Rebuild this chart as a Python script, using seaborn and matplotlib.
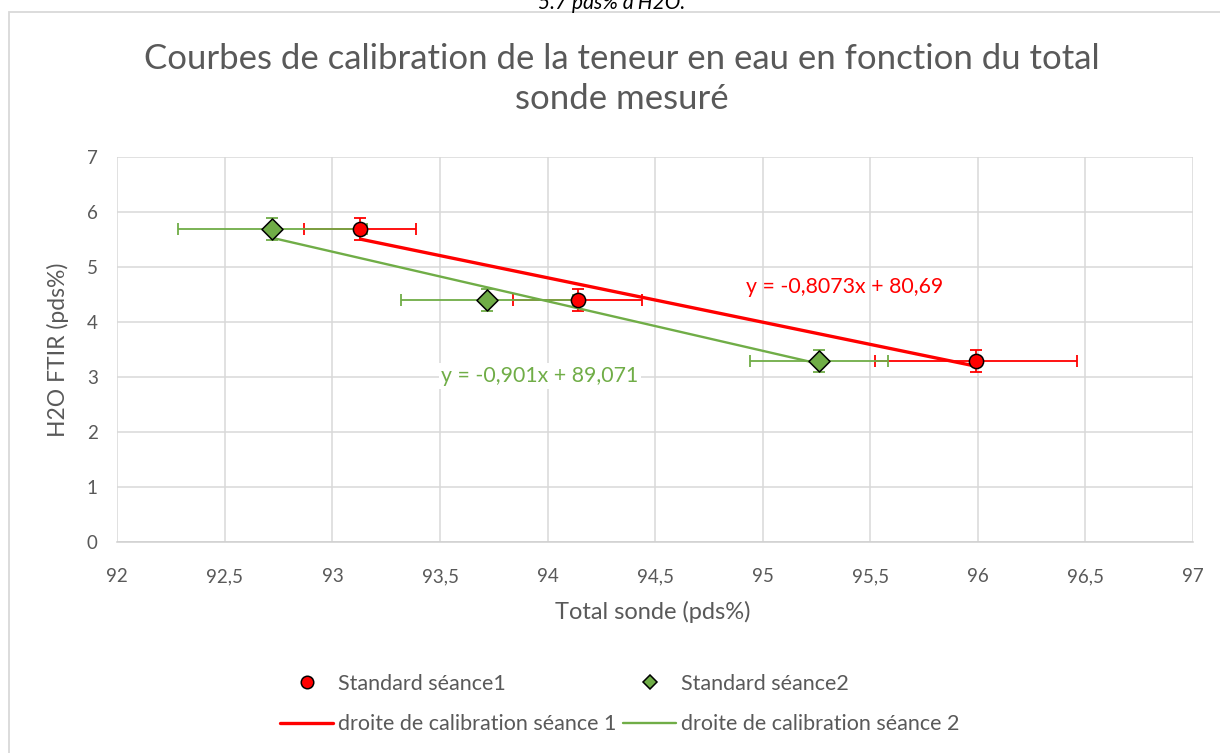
import numpy as np
import pandas as pd
import matplotlib
matplotlib.use("Agg")
import matplotlib.pyplot as plt
import seaborn as sns
from matplotlib.ticker import FuncFormatter
from matplotlib.lines import Line2D
from matplotlib.patches import Rectangle

# ---------------- data ----------------
x_s1 = [93.13, 94.14, 95.99]
y_s1 = [5.7, 4.4, 3.3]
xerr_s1 = [0.26, 0.30, 0.47]
yerr_s1 = [0.2, 0.2, 0.2]

x_s2 = [92.72, 93.72, 95.26]
y_s2 = [5.7, 4.4, 3.3]
xerr_s2 = [0.44, 0.40, 0.32]
yerr_s2 = [0.2, 0.2, 0.2]

slope1, intercept1 = -0.8073, 80.69
slope2, intercept2 = -0.901, 89.071
eq1 = "y = -0,8073x + 80,69"
eq2 = "y = -0,901x + 89,071"

title = "Courbes de calibration de la teneur en eau en fonction du total\nsonde mesuré"
top_text = "5.7 pds% d'H2O."
xlabel = "Total sonde (pds%)"
ylabel = "H2O FTIR (pds%)"
series_names = ["Standard séance1", "Standard séance2"]
line_names = ["droite de calibration séance 1", "droite de calibration séance 2"]
x_ticks = [92, 92.5, 93, 93.5, 94, 94.5, 95, 95.5, 96, 96.5, 97]
y_ticks = [0, 1, 2, 3, 4, 5, 6, 7]

RED = "#FF0000"
GREEN = "#70AD47"
GREY = "#595959"
GRID = "#D9D9D9"

# ---------------- style ----------------
sns.set_theme(style="whitegrid")
plt.rcParams["font.family"] = ["Lato", "DejaVu Sans"]

fig = plt.figure(figsize=(12.2, 7.53), dpi=100)
fig.patch.set_facecolor("white")
ax = fig.add_axes([117.3 / 1220, 1 - 542 / 753, (1193 - 117.3) / 1220, (542 - 157) / 753])
ax.set_facecolor("white")

df1 = pd.DataFrame({"x": x_s1, "y": y_s1})
df2 = pd.DataFrame({"x": x_s2, "y": y_s2})

# error bars
ax.errorbar(x_s1, y_s1, xerr=xerr_s1, yerr=yerr_s1, fmt="none", ecolor=RED,
            elinewidth=1.3, capsize=4, capthick=1.3, zorder=2)
ax.errorbar(x_s2, y_s2, xerr=xerr_s2, yerr=yerr_s2, fmt="none", ecolor=GREEN,
            elinewidth=1.3, capsize=4, capthick=1.3, zorder=2)

# trend lines
tx1 = np.array([min(x_s1), max(x_s1)])
tx2 = np.array([min(x_s2), max(x_s2)])
trend1 = pd.DataFrame({"x": tx1, "y": slope1 * tx1 + intercept1})
trend2 = pd.DataFrame({"x": tx2, "y": slope2 * tx2 + intercept2})
sns.lineplot(data=trend1, x="x", y="y", color=RED, linewidth=2.4, ax=ax, zorder=3)
sns.lineplot(data=trend2, x="x", y="y", color=GREEN, linewidth=1.7, ax=ax, zorder=3)

# markers
sns.scatterplot(data=df1, x="x", y="y", marker="o", s=105, color=RED,
                edgecolor="black", linewidth=1.1, ax=ax, zorder=4)
sns.scatterplot(data=df2, x="x", y="y", marker="D", s=115, color=GREEN,
                edgecolor="black", linewidth=1.1, ax=ax, zorder=4)

# equations
ax.text(95.38, 4.64, eq1, color=RED, fontsize=15.3, ha="center", va="center", zorder=5)
ax.text(93.965, 3.02, eq2, color=GREEN, fontsize=15.3, ha="center", va="center", zorder=5,
        bbox=dict(facecolor="white", edgecolor="none", pad=2))

# axes
ax.set_xlim(92, 97)
ax.set_ylim(0, 7)
ax.set_xticks(x_ticks)
ax.set_yticks(y_ticks)
fmt = FuncFormatter(lambda v, p: ("%g" % v).replace(".", ","))
ax.xaxis.set_major_formatter(fmt)
ax.yaxis.set_major_formatter(fmt)
ax.tick_params(axis="both", which="both", length=0, colors=GREY, labelsize=13.5)
ax.tick_params(axis="x", pad=19)
ax.tick_params(axis="y", pad=14)
ax.grid(True, color=GRID, linewidth=1.1)
for s in ["top", "right", "left"]:
    ax.spines[s].set_visible(False)
ax.spines["bottom"].set_color("#CFCFCF")
ax.spines["bottom"].set_linewidth(1.1)
ax.set_xlabel("")
ax.set_ylabel("")

fig.text(653 / 1220, 1 - 612 / 753, xlabel, color=GREY, fontsize=17, ha="center", va="center")
fig.text(58 / 1220, 1 - 350 / 753, ylabel, color=GREY, fontsize=16.5, ha="center", va="center",
         rotation=90)

# title
fig.text(622 / 1220, 1 - 79 / 753, title, color=GREY, fontsize=25, ha="center", va="center",
         linespacing=1.32)

# cropped text at top
fig.text(612 / 1220, 1 - 9 / 753, top_text, color="black", fontsize=15, style="italic",
         ha="center", va="baseline")

# chart border
fig.patches.append(Rectangle((9 / 1220, -0.05), 1.1, 1 - 12 / 753 + 0.05,
                             transform=fig.transFigure, facecolor="none",
                             edgecolor=GRID, linewidth=1.3, zorder=0))

# legend (2 x 2 grid)
h_s1 = Line2D([], [], linestyle="none", marker="o", markersize=9, markerfacecolor=RED,
              markeredgecolor="black", markeredgewidth=1.1)
h_s2 = Line2D([], [], linestyle="none", marker="D", markersize=7, markerfacecolor=GREEN,
              markeredgecolor="black", markeredgewidth=1.1)
h_l1 = Line2D([], [], color=RED, linewidth=2.4)
h_l2 = Line2D([], [], color=GREEN, linewidth=1.7)
fig.legend([h_s1, h_l1, h_s2, h_l2],
           [series_names[0], line_names[0], series_names[1], line_names[1]],
           loc="center", bbox_to_anchor=(620 / 1220, 1 - 704 / 753),
           ncol=2, frameon=False, fontsize=15.5, handlelength=2.45, handletextpad=0.25,
           columnspacing=0.3, labelspacing=0.95, labelcolor=GREY)

fig.savefig("out.png", dpi=100, facecolor="white")
